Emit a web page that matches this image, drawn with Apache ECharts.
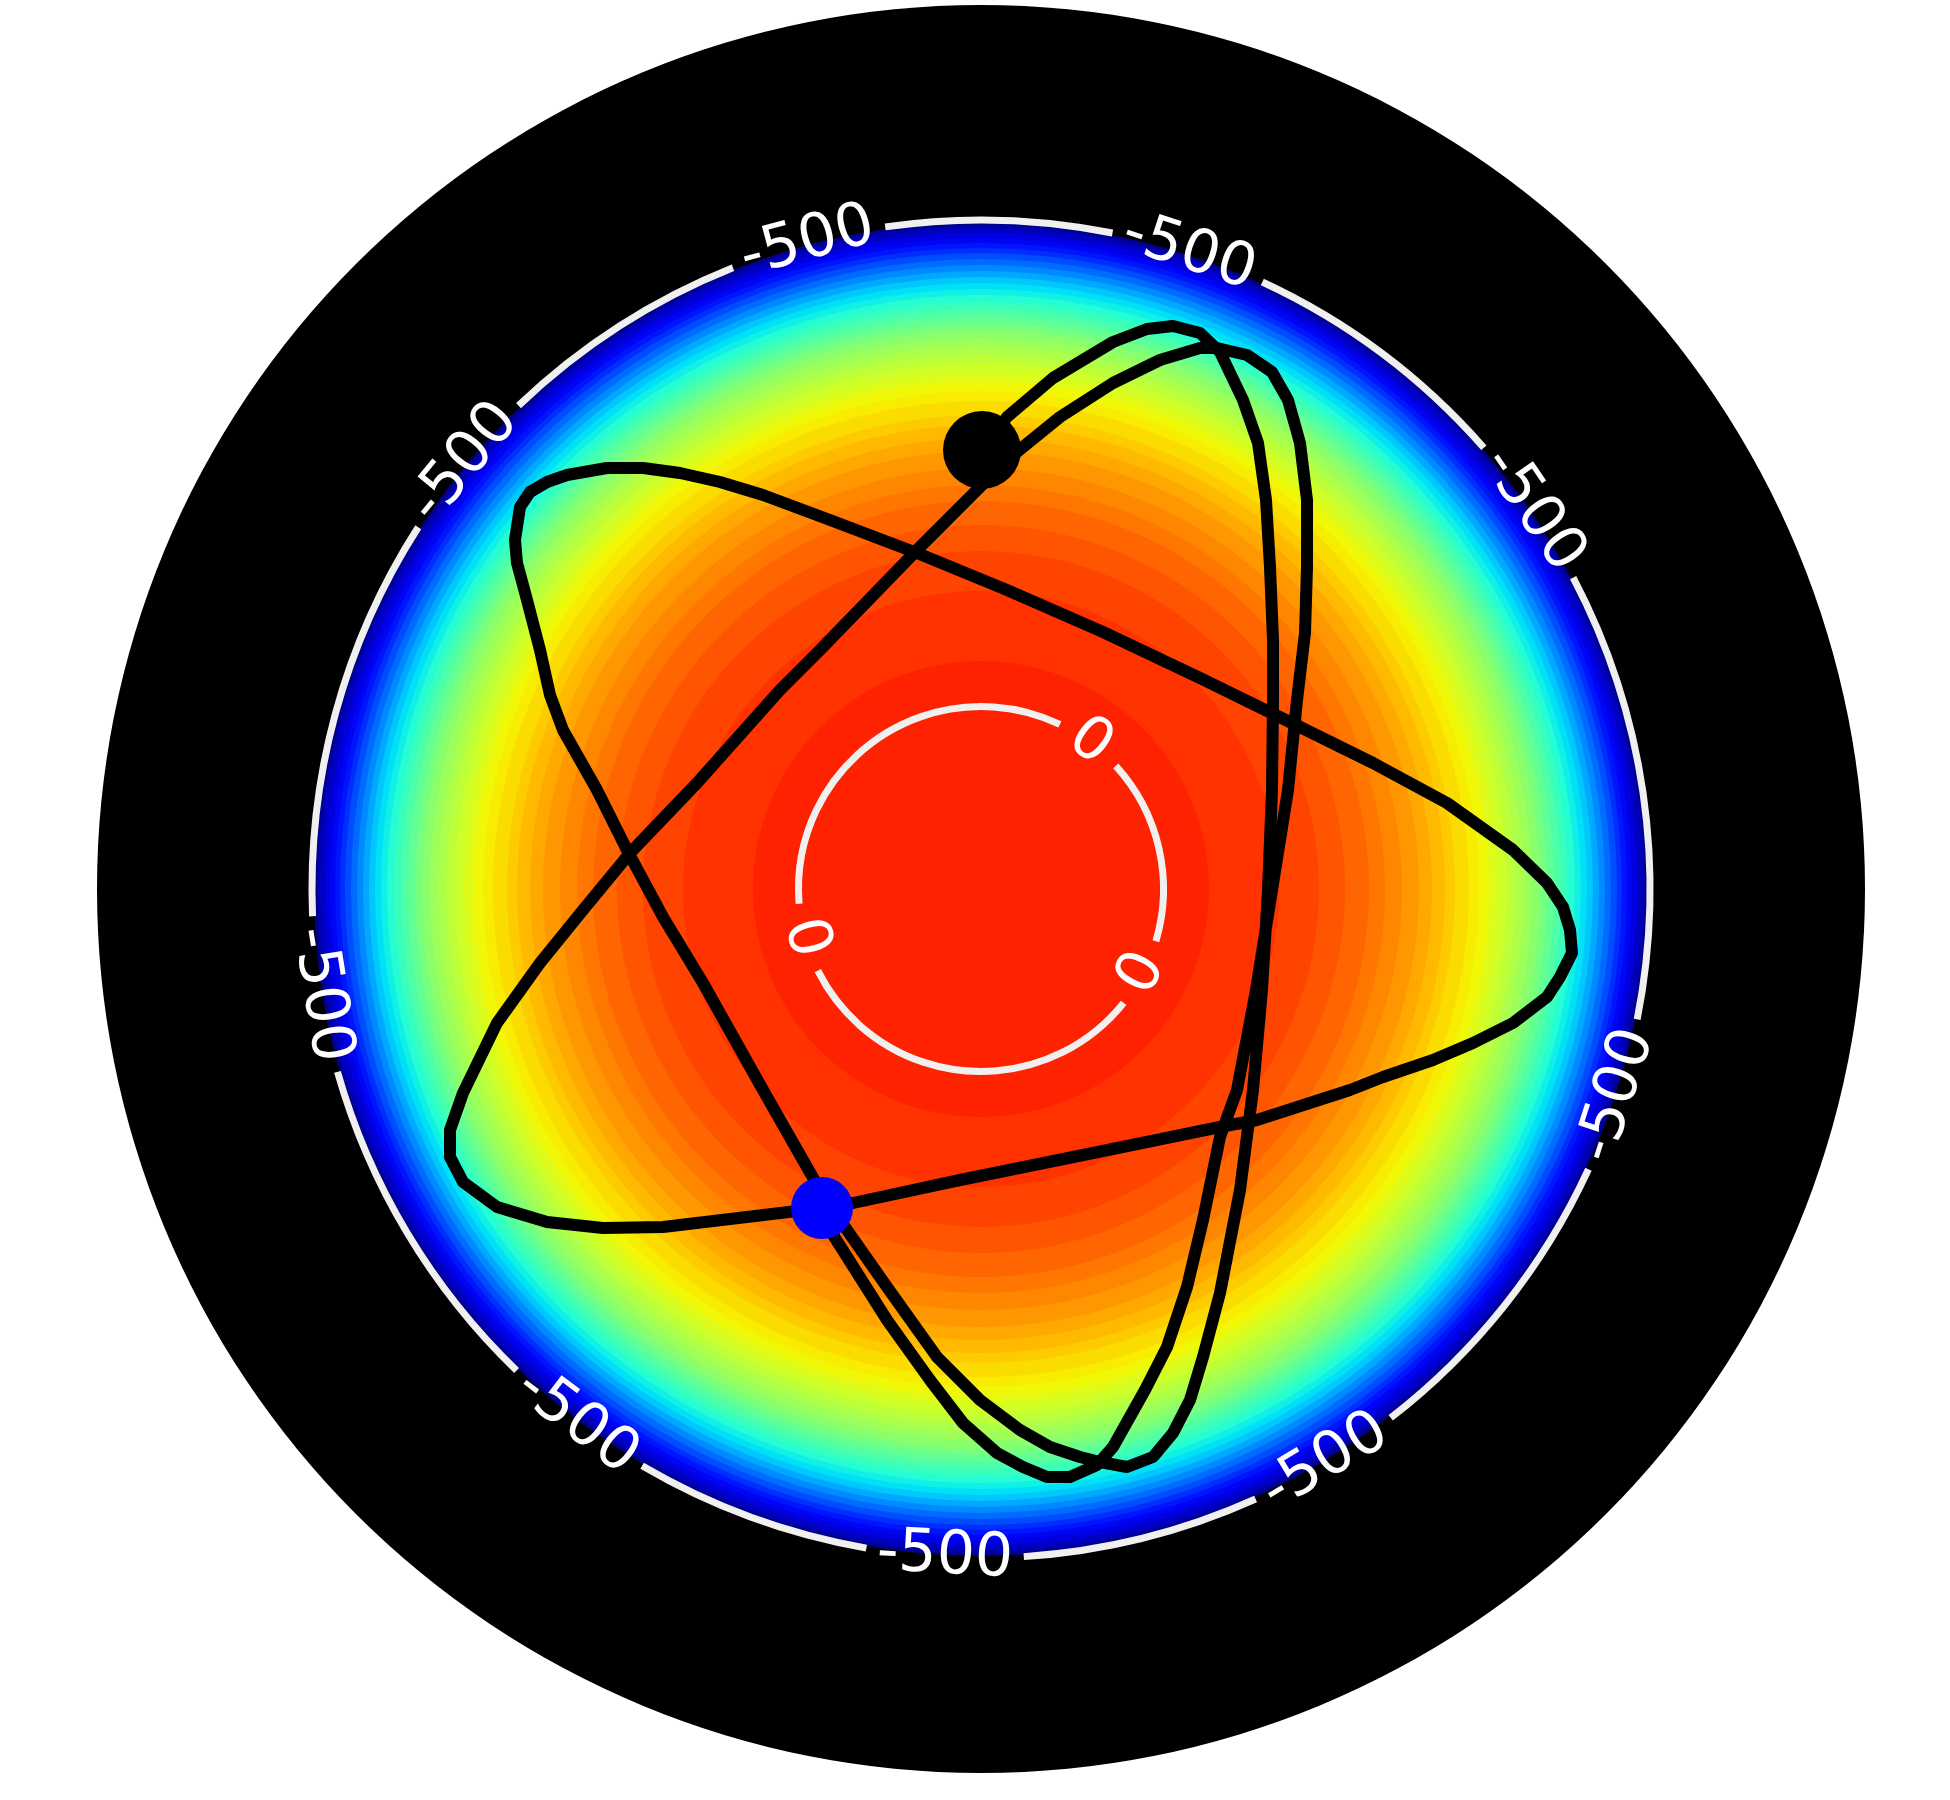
<!DOCTYPE html>
<html>
<head>
<meta charset="utf-8">
<script src="https://cdn.jsdelivr.net/npm/echarts@6/dist/echarts.min.js"></script>
<style>
html,body{margin:0;padding:0;background:#ffffff;}
#chart{width:1950px;height:1800px;}
</style>
</head>
<body>
<div id="chart"></div>
<script>
// ---------------- data ----------------
// orbit, in data units (x to the right, y upward)
const orbitX = [0.01, 0.26, 0.72, 1.32, 1.66, 1.92, 2.19, 2.39, 2.62, 2.77,
  2.85, 2.89, 2.92, 2.92, 2.91, 2.87, 2.81, 2.72, 2.59, 2.39,
  2.22, 2.09, 1.92, 1.72, 1.46, 1.19, 0.99, 0.69, 0.39, -0.01,
  -0.44, -0.94, -1.41, -1.61, -2.18, -2.78, -3.18, -3.54, -3.84, -4.18,
  -4.31, -4.41, -4.54, -4.64, -4.66, -4.61, -4.51, -4.34, -4.14, -3.74,
  -3.38, -3.01, -2.61, -2.18, -1.51, -0.64, 0.26, 1.22, 2.19, 3.19,
  3.92, 4.66, 5.32, 5.66, 5.82, 5.89, 5.91, 5.79, 5.66, 5.32,
  4.92, 4.52, 4.02, 3.69, 2.76, 2.39, 1.12, -0.21, -1.28, -1.84,
  -3.18, -3.78, -4.34, -4.84, -5.18, -5.31, -5.31, -5.18, -4.84, -4.41,
  -3.98, -3.51, -2.84, -2.01, -1.61, -0.64, 0.26, 0.79, 1.32, 1.79,
  2.19, 2.36, 2.66, 2.91, 3.07, 3.19, 3.26, 3.26, 3.24, 3.16,
  3.07, 2.91, 2.75, 2.56, 2.39, 2.22, 2.06, 1.86, 1.64, 1.32,
  1.16, 0.89, 0.66, 0.42, 0.16, -0.18, -0.51, -0.94, -1.51, -1.59];
const orbitY = [4.39, 4.72, 5.11, 5.47, 5.60, 5.63, 5.56, 5.37, 4.89, 4.46,
  3.89, 3.22, 2.49, 1.89, 0.99, -0.01, -1.01, -2.01, -3.01, -4.04,
  -4.68, -5.11, -5.44, -5.68, -5.78, -5.73, -5.68, -5.58, -5.41, -5.11,
  -4.68, -3.98, -3.31, -3.01, -2.01, -0.94, -0.28, 0.39, 0.99, 1.59,
  1.94, 2.39, 2.89, 3.26, 3.49, 3.82, 3.97, 4.07, 4.14, 4.21,
  4.21, 4.16, 4.07, 3.94, 3.69, 3.36, 2.99, 2.57, 2.11, 1.62,
  1.26, 0.86, 0.39, 0.06, -0.18, -0.41, -0.64, -0.88, -1.08, -1.34,
  -1.54, -1.71, -1.88, -2.01, -2.31, -2.38, -2.64, -2.91, -3.14, -3.22,
  -3.38, -3.39, -3.33, -3.18, -2.93, -2.68, -2.41, -2.04, -1.34, -0.74,
  -0.21, 0.36, 1.06, 1.99, 2.39, 3.39, 4.29, 4.72, 5.06, 5.29,
  5.41, 5.41, 5.34, 5.17, 4.89, 4.46, 3.89, 3.22, 2.56, 1.89,
  0.99, -0.01, -1.01, -2.01, -2.48, -3.31, -3.98, -4.58, -5.01, -5.58,
  -5.76, -5.88, -5.88, -5.78, -5.64, -5.34, -4.91, -4.31, -3.41, -3.19];

// filled field: band edges (radius) and band colour level (0..1 on jet)
const fieldEdges = [0, 2.28, 2.98, 3.38, 3.64, 3.88, 4.04, 4.21, 4.38, 4.51,
  4.64, 4.74, 4.88, 4.98, 5.08, 5.17, 5.26, 5.35, 5.43, 5.51,
  5.59, 5.66, 5.73, 5.80, 5.87, 5.94, 6.00, 6.06, 6.12, 6.18,
  6.24, 6.30, 6.36, 6.41, 6.46, 6.51, 6.56, 6.61, 6.64, 6.67];
const fieldLevel = [0.875, 0.857, 0.839, 0.821, 0.803, 0.785, 0.767, 0.749, 0.731, 0.713,
  0.695, 0.677, 0.659, 0.641, 0.62, 0.60, 0.58, 0.56, 0.54, 0.52,
  0.495, 0.47, 0.445, 0.42, 0.395, 0.37, 0.345, 0.32, 0.29, 0.26,
  0.23, 0.20, 0.17, 0.14, 0.11, 0.085, 0.06, 0.035, 0.01];

// contour lines and their inline labels
const contourLevels = [0, -500];
const contourRadius = [1.825, 6.69];
const labelAngles0 = [53.4, -27.6, 195.6];
const labelAngles500 = [105, 71.9, 34.5, -18, -59, 266.9, 232.8, 189.1, 140.5];
const radiusMax = 8.84;

// ---------------- styles ----------------
const jetColors = ['#000080','#0000b9','#0000f3','#001aff','#004cff','#0080ff','#00b3ff',
  '#00e6f7','#29ffce','#52ffa4','#7bff7b','#a4ff52','#ceff29','#f7f500','#ffc600',
  '#ff9700','#ff6800','#ff3900','#ff0a00','#b90000','#800000'];
const labelFont = '60px "DejaVu Sans"';
const contourGapPx = [70, 158];

// ---------------- build ----------------
const norm = a => ((a % 360) + 360) % 360;
const orbit = orbitX.map((x, i) => {
  const y = orbitY[i];
  return [Math.hypot(x, y), norm(Math.atan2(y, x) * 180 / Math.PI)];
});
const fieldData = [];
for (let i = fieldLevel.length - 1; i >= 0; i--) {
  fieldData.push([fieldEdges[i], fieldEdges[i + 1], fieldLevel[i]]);
}
const contourLabelAngles = [labelAngles0, labelAngles500];

function pxRadius(params, api, r) {
  const cs = params.coordSys;
  const p = api.coord([r, 0]);
  return Math.hypot(p[0] - cs.cx, p[1] - cs.cy);
}

function discItem(params, api) {
  const cs = params.coordSys;
  return {
    type: 'circle',
    shape: { cx: cs.cx, cy: cs.cy, r: pxRadius(params, api, api.value(0)) },
    style: { fill: '#000000', stroke: 'none' }
  };
}

function fieldItem(params, api) {
  const cs = params.coordSys;
  return {
    type: 'circle',
    shape: { cx: cs.cx, cy: cs.cy, r: pxRadius(params, api, api.value(1)) },
    style: { fill: api.visual('color'), stroke: 'none' }
  };
}

function contourItem(params, api) {
  const cs = params.coordSys;
  const idx = params.dataIndex;
  const rv = api.value(0);
  const R = pxRadius(params, api, rv);
  const angles = contourLabelAngles[idx].map(norm);
  const text = String(contourLevels[idx]);
  const half = contourGapPx[idx] / 2 / R;
  const sorted = angles.map(a => a * Math.PI / 180).sort((a, b) => a - b);
  const children = [];
  for (let i = 0; i < sorted.length; i++) {
    const a1 = sorted[i] + half;
    const a2 = (i + 1 < sorted.length ? sorted[i + 1] : sorted[0] + 2 * Math.PI) - half;
    children.push({
      type: 'arc',
      shape: { cx: cs.cx, cy: cs.cy, r: R, startAngle: -a1, endAngle: -a2, clockwise: false },
      style: { stroke: '#f0f0f0', lineWidth: 7, fill: 'none' }
    });
  }
  angles.forEach(a => {
    const pt = api.coord([rv, a]);
    let rot = a - 90;
    while (rot > 90) rot -= 180;
    while (rot <= -90) rot += 180;
    children.push({
      type: 'text',
      x: pt[0], y: pt[1],
      rotation: rot * Math.PI / 180,
      style: {
        text: text, fill: '#ffffff', font: labelFont,
        align: 'center', verticalAlign: 'middle',
        textAlign: 'center', textVerticalAlign: 'middle'
      }
    });
  });
  return { type: 'group', children: children };
}

const chart = echarts.init(document.getElementById('chart'), null, { renderer: 'canvas' });
chart.setOption({
  animation: false,
  backgroundColor: '#ffffff',
  polar: { center: [981, 889], radius: 884 },
  angleAxis: { type: 'value', min: 0, max: 360, startAngle: 0, clockwise: false, show: false },
  radiusAxis: { type: 'value', min: 0, max: radiusMax, show: false },
  visualMap: {
    show: false, type: 'continuous', min: 0, max: 1, dimension: 2, seriesIndex: 1,
    inRange: { color: jetColors }
  },
  series: [
    { type: 'custom', coordinateSystem: 'polar', silent: true, z: 1,
      data: [[radiusMax, 0]], renderItem: discItem },
    { type: 'custom', coordinateSystem: 'polar', silent: true, z: 2,
      data: fieldData, renderItem: fieldItem },
    { type: 'custom', coordinateSystem: 'polar', silent: true, z: 3,
      data: contourRadius.map((r, i) => [r, 0, contourLevels[i]]), renderItem: contourItem },
    { type: 'line', coordinateSystem: 'polar', silent: true, z: 4,
      data: orbit, symbol: 'none', smooth: false,
      lineStyle: { color: '#000000', width: 12, join: 'round', cap: 'round' } },
    { type: 'scatter', coordinateSystem: 'polar', silent: true, z: 5,
      data: [orbit[0]], symbol: 'circle', symbolSize: 78,
      itemStyle: { color: '#000000', opacity: 1 } },
    { type: 'scatter', coordinateSystem: 'polar', silent: true, z: 5,
      data: [orbit[orbit.length - 1]], symbol: 'circle', symbolSize: 62,
      itemStyle: { color: '#0000ff', opacity: 1 } }
  ]
});
</script>
</body>
</html>
